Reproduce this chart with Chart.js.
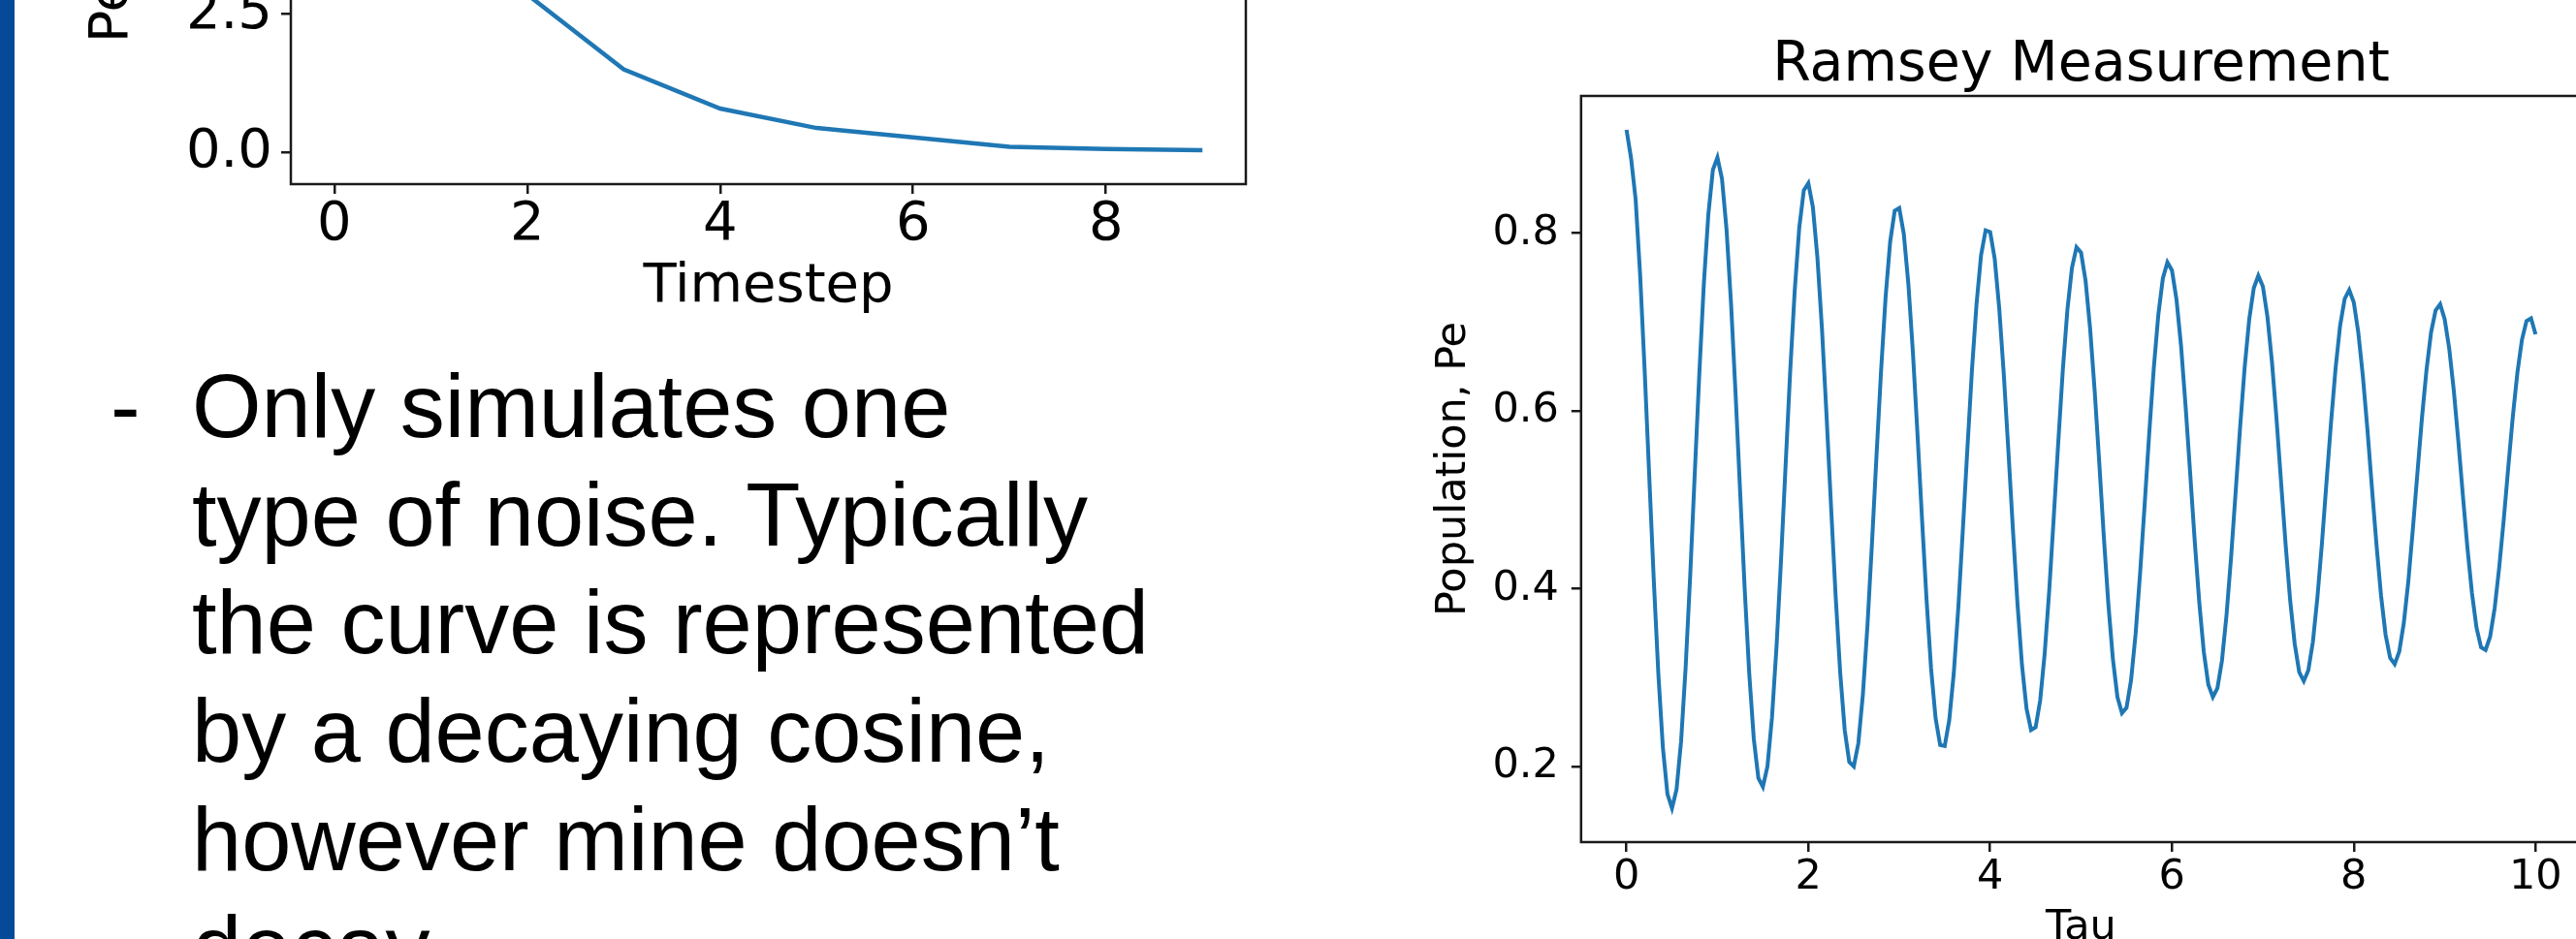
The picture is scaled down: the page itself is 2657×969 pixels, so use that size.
<!DOCTYPE html>
<html>
<head>
<meta charset="utf-8">
<script src="https://cdn.jsdelivr.net/npm/chart.js@4.4.1/dist/chart.umd.min.js"></script>
<style>
  html, body { margin: 0; padding: 0; }
  body { width: 2657px; height: 969px; overflow: hidden; position: relative; background: #fff; }
  #bar { position: absolute; left: 0; top: 0; width: 15px; height: 969px; background: #044a99; z-index: 2; }
  #left { position: absolute; left: 20px; top: -621px; }
  #right { position: absolute; left: 1400px; top: 0; }
  .slideText { position: absolute; top: 364px; font-family: "Liberation Sans", Arial, sans-serif; font-size: 92px; line-height: 111.7px; color: #000; white-space: nowrap; }
  #dash { left: 114px; }
  #notes { left: 198px; }
</style>
</head>
<body>
<div id="bar"></div>
<canvas id="left" width="1300" height="981"></canvas>
<canvas id="right" width="1493" height="1000"></canvas>
<div class="slideText" id="dash">-</div>
<div class="slideText" id="notes">Only simulates one<br>type of noise. Typically<br>the curve is represented<br>by a decaying cosine,<br>however mine doesn’t<br>decay.</div>
<script>
// Left chart: error vs timestep
const timesteps = [0, 1, 2, 3, 4, 5, 6, 7, 8, 9];
const errorValues = [12.3, 5.7, 2.85, 1.5, 0.79, 0.44, 0.27, 0.1, 0.06, 0.04];

// Right chart: Ramsey measurement
const tau = [
  0, 0.05, 0.1, 0.15, 0.2, 0.25, 0.3, 0.35, 0.4, 0.45, 0.5, 0.55, 0.6, 0.65, 0.7, 0.75, 0.8, 0.85, 0.9, 0.95,
  1, 1.05, 1.1, 1.15, 1.2, 1.25, 1.3, 1.35, 1.4, 1.45, 1.5, 1.55, 1.6, 1.65, 1.7, 1.75, 1.8, 1.85, 1.9, 1.95,
  2, 2.05, 2.1, 2.15, 2.2, 2.25, 2.3, 2.35, 2.4, 2.45, 2.5, 2.55, 2.6, 2.65, 2.7, 2.75, 2.8, 2.85, 2.9, 2.95,
  3, 3.05, 3.1, 3.15, 3.2, 3.25, 3.3, 3.35, 3.4, 3.45, 3.5, 3.55, 3.6, 3.65, 3.7, 3.75, 3.8, 3.85, 3.9, 3.95,
  4, 4.05, 4.1, 4.15, 4.2, 4.25, 4.3, 4.35, 4.4, 4.45, 4.5, 4.55, 4.6, 4.65, 4.7, 4.75, 4.8, 4.85, 4.9, 4.95,
  5, 5.05, 5.1, 5.15, 5.2, 5.25, 5.3, 5.35, 5.4, 5.45, 5.5, 5.55, 5.6, 5.65, 5.7, 5.75, 5.8, 5.85, 5.9, 5.95,
  6, 6.05, 6.1, 6.15, 6.2, 6.25, 6.3, 6.35, 6.4, 6.45, 6.5, 6.55, 6.6, 6.65, 6.7, 6.75, 6.8, 6.85, 6.9, 6.95,
  7, 7.05, 7.1, 7.15, 7.2, 7.25, 7.3, 7.35, 7.4, 7.45, 7.5, 7.55, 7.6, 7.65, 7.7, 7.75, 7.8, 7.85, 7.9, 7.95,
  8, 8.05, 8.1, 8.15, 8.2, 8.25, 8.3, 8.35, 8.4, 8.45, 8.5, 8.55, 8.6, 8.65, 8.7, 8.75, 8.8, 8.85, 8.9, 8.95,
  9, 9.05, 9.1, 9.15, 9.2, 9.25, 9.3, 9.35, 9.4, 9.45, 9.5, 9.55, 9.6, 9.65, 9.7, 9.75, 9.8, 9.85, 9.9, 9.95,
  10
];
const population = [
  0.916, 0.884, 0.838, 0.752, 0.644, 0.526, 0.409, 0.304, 0.221, 0.169, 0.153, 0.174, 0.228, 0.311, 0.414, 0.528, 0.640, 0.742, 0.821, 0.871,
  0.885, 0.861, 0.804, 0.720, 0.618, 0.508, 0.399, 0.304, 0.231, 0.187, 0.177, 0.200, 0.255, 0.335, 0.433, 0.539, 0.644, 0.735, 0.806, 0.848,
  0.856, 0.829, 0.772, 0.692, 0.595, 0.492, 0.392, 0.306, 0.241, 0.205, 0.200, 0.226, 0.281, 0.358, 0.451, 0.550, 0.645, 0.728, 0.790, 0.825,
  0.828, 0.799, 0.743, 0.666, 0.575, 0.479, 0.388, 0.310, 0.254, 0.224, 0.223, 0.252, 0.305, 0.379, 0.467, 0.558, 0.646, 0.720, 0.775, 0.803,
  0.801, 0.771, 0.715, 0.641, 0.556, 0.467, 0.384, 0.314, 0.265, 0.241, 0.244, 0.274, 0.327, 0.398, 0.481, 0.566, 0.647, 0.714, 0.761, 0.784,
  0.778, 0.746, 0.692, 0.622, 0.542, 0.459, 0.383, 0.321, 0.278, 0.260, 0.266, 0.297, 0.349, 0.418, 0.495, 0.575, 0.648, 0.708, 0.749, 0.767,
  0.758, 0.725, 0.673, 0.605, 0.530, 0.454, 0.385, 0.329, 0.292, 0.278, 0.288, 0.319, 0.370, 0.435, 0.508, 0.582, 0.649, 0.703, 0.738, 0.752,
  0.740, 0.706, 0.655, 0.591, 0.520, 0.450, 0.387, 0.338, 0.306, 0.296, 0.308, 0.340, 0.390, 0.451, 0.520, 0.587, 0.648, 0.696, 0.726, 0.736,
  0.722, 0.688, 0.639, 0.579, 0.513, 0.449, 0.392, 0.348, 0.322, 0.315, 0.329, 0.361, 0.408, 0.467, 0.530, 0.592, 0.646, 0.688, 0.713, 0.720,
  0.703, 0.670, 0.623, 0.566, 0.505, 0.446, 0.395, 0.356, 0.334, 0.331, 0.346, 0.378, 0.424, 0.478, 0.537, 0.594, 0.643, 0.680, 0.701, 0.704,
  0.686
];

const lineBlue = "#1f77b4";
const mplFont = "DejaVu Sans";
Chart.defaults.color = "#000";

// matplotlib-like 5% data margins
function padded(values) {
  const lo = Math.min(...values);
  const hi = Math.max(...values);
  const pad = (hi - lo) * 0.05;
  return { min: lo - pad, max: hi + pad };
}

// full box around the plot area (matplotlib spines)
const spines = {
  id: "spines",
  afterDatasetsDraw(chart) {
    const { ctx, chartArea: a } = chart;
    ctx.save();
    ctx.strokeStyle = "#1a1a1a";
    ctx.lineWidth = 2.5;
    ctx.strokeRect(a.left, a.top, a.right - a.left, a.bottom - a.top);
    ctx.restore();
  }
};

function tickGrid() {
  return { drawOnChartArea: false, drawTicks: true, tickLength: 10, color: "#1a1a1a", lineWidth: 2.5 };
}

// 1. Left chart
const leftX = padded(timesteps);
const leftY = padded(errorValues);
new Chart(document.getElementById("left"), {
  type: "line",
  data: {
    labels: timesteps,
    datasets: [{ data: errorValues, borderColor: lineBlue, borderWidth: 4.5, pointRadius: 0, tension: 0, fill: false }]
  },
  options: {
    responsive: false,
    animation: false,
    layout: { padding: { top: 40, right: 35, bottom: 0, left: 0 } },
    plugins: { legend: { display: false }, tooltip: { enabled: false } },
    scales: {
      x: {
        type: "linear", min: leftX.min, max: leftX.max,
        afterFit: (s) => { s.height = 170; },
        grid: tickGrid(),
        border: { display: false },
        ticks: { stepSize: 2, includeBounds: false, autoSkip: false, maxRotation: 0, padding: 4,
                 font: { family: mplFont, size: 56, lineHeight: 1 } },
        title: { display: true, text: "Timestep", font: { family: mplFont, size: 56, lineHeight: 1 },
                 padding: { top: 0, bottom: 36 } }
      },
      y: {
        min: leftY.min, max: leftY.max,
        afterFit: (s) => { s.width = 280; },
        grid: tickGrid(),
        border: { display: false },
        ticks: { stepSize: 2.5, includeBounds: false, padding: 9,
                 font: { family: mplFont, size: 56, lineHeight: 1 },
                 callback: (v) => v.toFixed(1) },
        title: { display: true, text: "Percent Error (%)", font: { family: mplFont, size: 56, lineHeight: 1 },
                 padding: { top: 68, bottom: 0 } }
      }
    }
  },
  plugins: [spines]
});

// 2. Right chart
const rightX = padded(tau);
const rightY = padded(population);
new Chart(document.getElementById("right"), {
  type: "line",
  data: {
    labels: tau,
    datasets: [{ data: population, borderColor: lineBlue, borderWidth: 4, pointRadius: 0, tension: 0, fill: false }]
  },
  options: {
    responsive: false,
    animation: false,
    layout: { padding: 0 },
    plugins: {
      legend: { display: false },
      tooltip: { enabled: false },
      title: { display: true, text: "Ramsey Measurement", color: "#000",
               font: { family: mplFont, size: 57, weight: "normal", lineHeight: 1 },
               padding: { top: 39.8, bottom: 2.2 } }
    },
    scales: {
      x: {
        type: "linear", min: rightX.min, max: rightX.max,
        afterFit: (s) => { s.height = 131; },
        grid: tickGrid(),
        border: { display: false },
        ticks: { stepSize: 2, includeBounds: false, autoSkip: false, maxRotation: 0, padding: 5.5,
                 font: { family: mplFont, size: 43, lineHeight: 1 } },
        title: { display: true, text: "Tau", font: { family: mplFont, size: 43, lineHeight: 1 },
                 padding: { top: 0, bottom: 20.5 } }
      },
      y: {
        min: rightY.min, max: rightY.max,
        afterFit: (s) => { s.width = 230.8; },
        grid: tickGrid(),
        border: { display: false },
        ticks: { stepSize: 0.2, includeBounds: false, padding: 13,
                 font: { family: mplFont, size: 43, lineHeight: 1 },
                 callback: (v) => v.toFixed(1) },
        title: { display: true, text: "Population, Pe", font: { family: mplFont, size: 43, lineHeight: 1 },
                 padding: { top: 78.5, bottom: 0 } }
      },
      // empty right-hand box so the title centres over the plot
      yRight: {
        position: "right",
        afterFit: (s) => { s.width = 230.8; },
        grid: { display: false },
        border: { display: false },
        ticks: { display: false }
      }
    }
  },
  plugins: [spines]
});
</script>
</body>
</html>
